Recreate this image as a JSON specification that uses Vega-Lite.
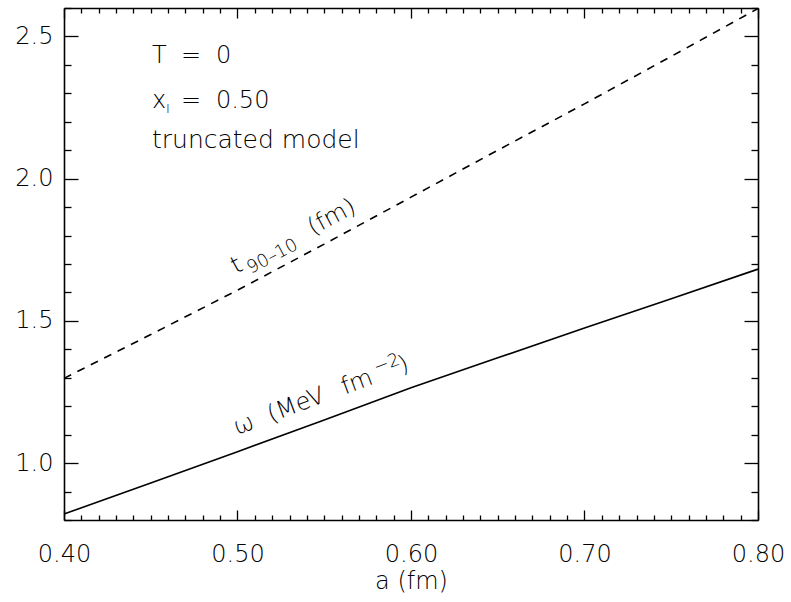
{
  "$schema": "https://vega.github.io/schema/vega-lite/v6.json",
  "width": 694,
  "height": 512,
  "autosize": {"type": "none"},
  "padding": {"left": 64, "top": 8, "right": 33, "bottom": 82},
  "background": "white",
  "config": {
    "view": {"stroke": null},
    "axis": {
      "grid": false,
      "domainColor": "black",
      "domainWidth": 1.6,
      "tickColor": "black",
      "tickWidth": 1.3,
      "labelColor": "black",
      "labelFont": "DejaVu Sans",
      "labelFontSize": 24,
      "labelFontWeight": 200,
      "titleFont": "DejaVu Sans",
      "titleFontSize": 24,
      "titleFontWeight": 200,
      "titleColor": "black",
      "labelFlush": false,
      "labelOverlap": false,
      "labelBound": false
    },
    "text": {"font": "DejaVu Sans", "fontSize": 24, "fontWeight": 200, "color": "black"}
  },
  "datasets": {
    "curves": [
      {"a": 0.40, "value": 0.821, "series": "omega"},
      {"a": 0.45, "value": 0.930, "series": "omega"},
      {"a": 0.50, "value": 1.040, "series": "omega"},
      {"a": 0.55, "value": 1.152, "series": "omega"},
      {"a": 0.60, "value": 1.265, "series": "omega"},
      {"a": 0.65, "value": 1.370, "series": "omega"},
      {"a": 0.70, "value": 1.475, "series": "omega"},
      {"a": 0.75, "value": 1.578, "series": "omega"},
      {"a": 0.80, "value": 1.682, "series": "omega"},
      {"a": 0.40, "value": 1.298, "series": "t90"},
      {"a": 0.45, "value": 1.452, "series": "t90"},
      {"a": 0.50, "value": 1.608, "series": "t90"},
      {"a": 0.55, "value": 1.770, "series": "t90"},
      {"a": 0.60, "value": 1.935, "series": "t90"},
      {"a": 0.65, "value": 2.100, "series": "t90"},
      {"a": 0.70, "value": 2.263, "series": "t90"},
      {"a": 0.75, "value": 2.430, "series": "t90"},
      {"a": 0.80, "value": 2.598, "series": "t90"}
    ],
    "one": [{}]
  },
  "layer": [
    {
      "data": {"name": "curves"},
      "transform": [{"filter": "datum.series == 'omega'"}],
      "mark": {"type": "line", "color": "black", "strokeWidth": 1.6},
      "encoding": {
        "x": {
          "field": "a", "type": "quantitative",
          "scale": {"domain": [0.4, 0.8], "nice": false, "zero": false},
          "axis": {
            "orient": "bottom",
            "values": [0.40,0.41,0.42,0.43,0.44,0.45,0.46,0.47,0.48,0.49,0.50,0.51,0.52,0.53,0.54,0.55,0.56,0.57,0.58,0.59,0.60,0.61,0.62,0.63,0.64,0.65,0.66,0.67,0.68,0.69,0.70,0.71,0.72,0.73,0.74,0.75,0.76,0.77,0.78,0.79,0.80],
            "labelExpr": "abs(datum.value*10 - round(datum.value*10)) < 0.001 ? format(datum.value, '.2f') : ''",
            "tickSize": {"condition": {"test": "abs(datum.value*10 - round(datum.value*10)) < 0.001", "value": -10}, "value": -5},
            "labelPadding": 32,
            "title": "a (fm)",
            "titlePadding": -2
          }
        },
        "y": {
          "field": "value", "type": "quantitative",
          "scale": {"domain": [0.8, 2.6], "nice": false, "zero": false},
          "axis": {
            "orient": "left",
            "values": [0.8,0.9,1.0,1.1,1.2,1.3,1.4,1.5,1.6,1.7,1.8,1.9,2.0,2.1,2.2,2.3,2.4,2.5,2.6],
            "labelExpr": "abs(datum.value*2 - round(datum.value*2)) < 0.001 ? format(datum.value, '.1f') : ''",
            "tickSize": {"condition": {"test": "abs(datum.value*2 - round(datum.value*2)) < 0.001", "value": -14}, "value": -7},
            "labelPadding": 25,
            "title": null
          }
        }
      }
    },
    {
      "data": {"name": "curves"},
      "transform": [{"filter": "datum.series == 't90'"}],
      "mark": {"type": "line", "color": "black", "strokeWidth": 1.6, "strokeDash": [8, 7]},
      "encoding": {
        "x": {
          "field": "a", "type": "quantitative",
          "scale": {"domain": [0.4, 0.8], "nice": false, "zero": false},
          "axis": {
            "orient": "top",
            "values": [0.40,0.41,0.42,0.43,0.44,0.45,0.46,0.47,0.48,0.49,0.50,0.51,0.52,0.53,0.54,0.55,0.56,0.57,0.58,0.59,0.60,0.61,0.62,0.63,0.64,0.65,0.66,0.67,0.68,0.69,0.70,0.71,0.72,0.73,0.74,0.75,0.76,0.77,0.78,0.79,0.80],
            "labels": false,
            "tickSize": {"condition": {"test": "abs(datum.value*10 - round(datum.value*10)) < 0.001", "value": -10}, "value": -5},
            "title": null
          }
        },
        "y": {
          "field": "value", "type": "quantitative",
          "scale": {"domain": [0.8, 2.6], "nice": false, "zero": false},
          "axis": {
            "orient": "right",
            "values": [0.8,0.9,1.0,1.1,1.2,1.3,1.4,1.5,1.6,1.7,1.8,1.9,2.0,2.1,2.2,2.3,2.4,2.5,2.6],
            "labels": false,
            "tickSize": {"condition": {"test": "abs(datum.value*2 - round(datum.value*2)) < 0.001", "value": -14}, "value": -7},
            "title": null
          }
        }
      }
    },
    {
      "data": {"name": "one"},
      "mark": {"type": "text", "text": "T", "align": "left", "baseline": "alphabetic"},
      "encoding": {"x": {"datum": 0.4507, "type": "quantitative", "axis": null}, "y": {"datum": 2.4066, "type": "quantitative", "axis": null}}
    },
    {
      "data": {"name": "one"},
      "mark": {"type": "text", "text": "=", "align": "left", "baseline": "alphabetic", "dx": 29},
      "encoding": {"x": {"datum": 0.4507, "type": "quantitative", "axis": null}, "y": {"datum": 2.4066, "type": "quantitative", "axis": null}}
    },
    {
      "data": {"name": "one"},
      "mark": {"type": "text", "text": "0", "align": "left", "baseline": "alphabetic", "dx": 64},
      "encoding": {"x": {"datum": 0.4507, "type": "quantitative", "axis": null}, "y": {"datum": 2.4066, "type": "quantitative", "axis": null}}
    },
    {
      "data": {"name": "one"},
      "mark": {"type": "text", "text": "x", "align": "left", "baseline": "alphabetic"},
      "encoding": {"x": {"datum": 0.4507, "type": "quantitative", "axis": null}, "y": {"datum": 2.2484, "type": "quantitative", "axis": null}}
    },
    {
      "data": {"name": "one"},
      "mark": {"type": "text", "text": "I", "align": "left", "baseline": "alphabetic", "dx": 14, "dy": 5, "fontSize": 13},
      "encoding": {"x": {"datum": 0.4507, "type": "quantitative", "axis": null}, "y": {"datum": 2.2484, "type": "quantitative", "axis": null}}
    },
    {
      "data": {"name": "one"},
      "mark": {"type": "text", "text": "=", "align": "left", "baseline": "alphabetic", "dx": 29},
      "encoding": {"x": {"datum": 0.4507, "type": "quantitative", "axis": null}, "y": {"datum": 2.2484, "type": "quantitative", "axis": null}}
    },
    {
      "data": {"name": "one"},
      "mark": {"type": "text", "text": "0.50", "align": "left", "baseline": "alphabetic", "dx": 64},
      "encoding": {"x": {"datum": 0.4507, "type": "quantitative", "axis": null}, "y": {"datum": 2.2484, "type": "quantitative", "axis": null}}
    },
    {
      "data": {"name": "one"},
      "mark": {"type": "text", "text": "truncated model", "align": "left", "baseline": "alphabetic", "fontSize": 25},
      "encoding": {"x": {"datum": 0.4507, "type": "quantitative", "axis": null}, "y": {"datum": 2.1078, "type": "quantitative", "axis": null}}
    },
    {
      "data": {"name": "one"},
      "mark": {"type": "text", "text": "t", "align": "left", "baseline": "alphabetic", "angle": -28},
      "encoding": {"x": {"datum": 0.4991, "type": "quantitative", "axis": null}, "y": {"datum": 1.6648, "type": "quantitative", "axis": null}}
    },
    {
      "data": {"name": "one"},
      "mark": {"type": "text", "text": "90–10", "align": "left", "baseline": "alphabetic", "angle": -28, "dx": 13, "dy": 7, "fontSize": 18},
      "encoding": {"x": {"datum": 0.4991, "type": "quantitative", "axis": null}, "y": {"datum": 1.6648, "type": "quantitative", "axis": null}}
    },
    {
      "data": {"name": "one"},
      "mark": {"type": "text", "text": "(fm)", "align": "left", "baseline": "alphabetic", "angle": -28, "dx": 86, "dy": 2},
      "encoding": {"x": {"datum": 0.4991, "type": "quantitative", "axis": null}, "y": {"datum": 1.6648, "type": "quantitative", "axis": null}}
    },
    {
      "data": {"name": "one"},
      "mark": {"type": "text", "text": "ω", "align": "left", "baseline": "alphabetic", "angle": -20.5},
      "encoding": {"x": {"datum": 0.4997, "type": "quantitative", "axis": null}, "y": {"datum": 1.0988, "type": "quantitative", "axis": null}}
    },
    {
      "data": {"name": "one"},
      "mark": {"type": "text", "text": "(MeV", "align": "left", "baseline": "alphabetic", "angle": -20.5, "dx": 36},
      "encoding": {"x": {"datum": 0.4997, "type": "quantitative", "axis": null}, "y": {"datum": 1.0988, "type": "quantitative", "axis": null}}
    },
    {
      "data": {"name": "one"},
      "mark": {"type": "text", "text": "fm", "align": "left", "baseline": "alphabetic", "angle": -20.5, "dx": 115},
      "encoding": {"x": {"datum": 0.4997, "type": "quantitative", "axis": null}, "y": {"datum": 1.0988, "type": "quantitative", "axis": null}}
    },
    {
      "data": {"name": "one"},
      "mark": {"type": "text", "text": "−2", "align": "left", "baseline": "alphabetic", "angle": -20.5, "dx": 152, "dy": -9, "fontSize": 18},
      "encoding": {"x": {"datum": 0.4997, "type": "quantitative", "axis": null}, "y": {"datum": 1.0988, "type": "quantitative", "axis": null}}
    },
    {
      "data": {"name": "one"},
      "mark": {"type": "text", "text": ")", "align": "left", "baseline": "alphabetic", "angle": -20.5, "dx": 176},
      "encoding": {"x": {"datum": 0.4997, "type": "quantitative", "axis": null}, "y": {"datum": 1.0988, "type": "quantitative", "axis": null}}
    }
  ],
  "resolve": {"axis": {"x": "independent", "y": "independent"}}
}
